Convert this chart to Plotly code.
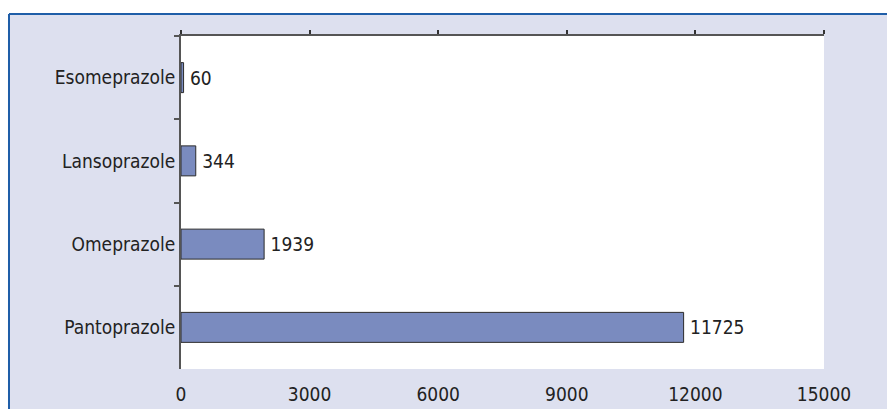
import plotly.graph_objects as go

# Prescription counts per proton pump inhibitor
drugs = ["Esomeprazole", "Lansoprazole", "Omeprazole", "Pantoprazole"]
counts = [60, 344, 1939, 11725]
x_ticks = [0, 3000, 6000, 9000, 12000, 15000]

FONT = "Liberation Sans Narrow, DejaVu Sans Condensed, Arial Narrow, sans-serif"
AXIS_COLOR = "#555555"
PANEL = "#dde0ef"
BORDER = "#1f5ea8"

fig = go.Figure()

fig.add_trace(go.Bar(
    y=drugs,
    x=counts,
    orientation="h",
    width=0.36,
    marker=dict(color="#7a8bbf", line=dict(color="#2b2b2b", width=1)),
    text=[str(c) for c in counts],
    texttemplate="\u2009%{text}",
    textposition="outside",
    textfont=dict(family=FONT, size=19, color="#222222"),
    cliponaxis=False,
    hoverinfo="skip",
))

# empty trace so the top (line + ticks) axis is rendered
fig.add_trace(go.Scatter(x=[None], y=[None], xaxis="x2", yaxis="y",
                         mode="markers", showlegend=False, hoverinfo="skip"))

fig.update_layout(
    width=887,
    height=409,
    margin=dict(l=181, r=63, t=36, b=40),
    paper_bgcolor="white",
    plot_bgcolor="rgba(0,0,0,0)",
    showlegend=False,
    font=dict(family=FONT, size=19, color="#222222"),
    xaxis=dict(
        range=[0, 15000],
        tickvals=x_ticks,
        ticktext=[str(v) for v in x_ticks],
        showline=False,
        showgrid=False,
        zeroline=False,
        ticks="",
        automargin=False,
        ticklabelstandoff=12,
        tickfont=dict(family=FONT, size=19, color="#222222"),
    ),
    xaxis2=dict(
        overlaying="x",
        side="top",
        anchor="y",
        range=[0, 15000],
        tickvals=x_ticks,
        showticklabels=False,
        showline=True,
        linecolor=AXIS_COLOR,
        linewidth=2,
        ticks="outside",
        ticklen=4,
        tickwidth=2,
        tickcolor="#333333",
        showgrid=False,
        zeroline=False,
        automargin=False,
    ),
    yaxis=dict(
        type="category",
        categoryorder="array",
        categoryarray=drugs,
        range=[3.5, -0.5],
        showline=True,
        linecolor=AXIS_COLOR,
        linewidth=2,
        ticks="outside",
        tickson="boundaries",
        ticklen=5,
        tickwidth=2,
        tickcolor=AXIS_COLOR,
        showgrid=False,
        zeroline=False,
        automargin=False,
        tickfont=dict(family=FONT, size=19, color="#222222"),
    ),
    shapes=[
        # lavender panel behind the chart
        dict(type="rect", xref="paper", yref="paper",
             x0=-0.2675, x1=1.2, y0=-0.3, y1=1.066,
             fillcolor=PANEL, line=dict(width=0), layer="below"),
        # white plotting area
        dict(type="rect", xref="paper", yref="paper",
             x0=0, x1=1, y0=0, y1=1,
             fillcolor="white", line=dict(width=0), layer="below"),
        # blue frame on left and top
        dict(type="line", xref="paper", yref="paper",
             x0=-0.2675, x1=-0.2675, y0=-0.3, y1=1.066,
             line=dict(color=BORDER, width=2)),
        dict(type="line", xref="paper", yref="paper",
             x0=-0.2675, x1=1.2, y0=1.066, y1=1.066,
             line=dict(color=BORDER, width=2)),
    ],
)

fig.write_html("out.html")
